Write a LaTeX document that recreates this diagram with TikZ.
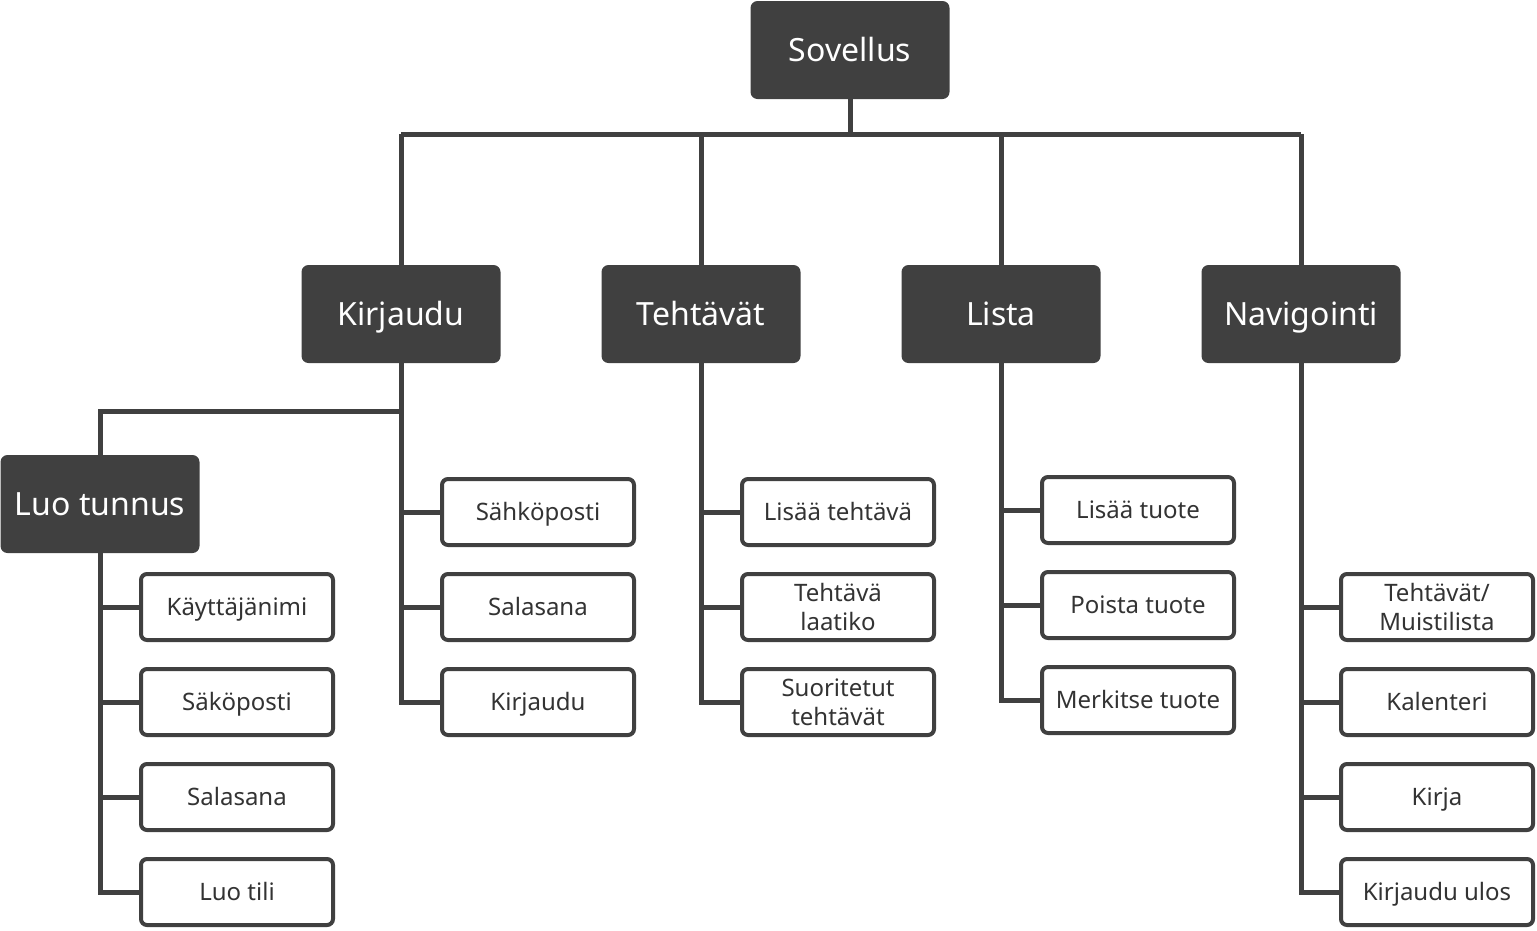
\documentclass[tikz,border=0pt]{standalone}
\usepackage{fontspec}
\setmainfont{Noto Sans}
\definecolor{dk}{HTML}{404040}
\definecolor{tx}{HTML}{333333}
\tikzset{
  mainbox/.style={fill=dk, rounded corners=7pt, minimum width=199pt, minimum height=98pt, text=white, font=\fontsize{32}{38}\selectfont, inner sep=0pt, text height=26pt, text depth=4pt},
  leafbase/.style={draw=dk, line width=4pt, fill=white, rounded corners=6pt, minimum width=192pt, minimum height=66pt, font=\fontsize{24}{29}\selectfont, text=tx, align=center, inner sep=0pt},
  leaf/.style={leafbase, text height=19pt, text depth=3pt},
  leaftwo/.style={leafbase},
  conn/.style={draw=dk, line width=5pt},
}
\begin{document}
\begin{tikzpicture}[x=1pt,y=-1pt]
\useasboundingbox (0,0) rectangle (1537,930);
% level 1
\node[mainbox] (sov) at (850,50) {Sovellus};
\coordinate (bus) at (850,134);
% level 2
\node[mainbox] (kir) at (401,314) {Kirjaudu};
\node[mainbox] (teh) at (701,314) {Tehtävät};
\node[mainbox] (lis) at (1001,314) {Lista};
\node[mainbox] (nav) at (1301,314) {Navigointi};
\node[mainbox] (luo) at (100,504) {Luo tunnus};
\coordinate (kbr) at (401,411);
% Luo tunnus children
\node[leaf] (l1) at (237,607) {Käyttäjänimi};
\node[leaf] (l2) at (237,702) {Säköposti};
\node[leaf] (l3) at (237,797) {Salasana};
\node[leaf] (l4) at (237,892) {Luo tili};
% Kirjaudu children
\node[leaf] (k1) at (538,512) {Sähköposti};
\node[leaf] (k2) at (538,607) {Salasana};
\node[leaf] (k3) at (538,702) {Kirjaudu};
% Tehtävät children
\node[leaf] (t1) at (838,512) {Lisää tehtävä};
\node[leaftwo] (t2) at (838,607) {Tehtävä\\laatiko};
\node[leaftwo] (t3) at (838,702) {Suoritetut\\tehtävät};
% Lista children
\node[leaf] (s1) at (1138,510) {Lisää tuote};
\node[leaf] (s2) at (1138,605) {Poista tuote};
\node[leaf] (s3) at (1138,700) {Merkitse tuote};
% Navigointi children
\node[leaftwo] (n1) at (1437,607) {Tehtävät/\\Muistilista};
\node[leaf] (n2) at (1437,702) {Kalenteri};
\node[leaf] (n3) at (1437,797) {Kirja};
\node[leaf] (n4) at (1437,892) {Kirjaudu ulos};
% connectors
\draw[conn] (sov.south) -- (bus);
\draw[conn] (kir.north |- bus) -- (nav.north |- bus);
\draw[conn] (kir.north |- bus) -- (kir.north);
\draw[conn] (teh.north |- bus) -- (teh.north);
\draw[conn] (lis.north |- bus) -- (lis.north);
\draw[conn] (nav.north |- bus) -- (nav.north);
% Kirjaudu
\draw[conn] (kir.south) |- (k3.west);
\draw[conn] (kir.south |- k1) -- (k1.west);
\draw[conn] (kir.south |- k2) -- (k2.west);
\draw[conn] (kbr) -| (luo.north);
% Luo tunnus
\draw[conn] (luo.south) |- (l4.west);
\draw[conn] (luo.south |- l1) -- (l1.west);
\draw[conn] (luo.south |- l2) -- (l2.west);
\draw[conn] (luo.south |- l3) -- (l3.west);
% Tehtävät
\draw[conn] (teh.south) |- (t3.west);
\draw[conn] (teh.south |- t1) -- (t1.west);
\draw[conn] (teh.south |- t2) -- (t2.west);
% Lista
\draw[conn] (lis.south) |- (s3.west);
\draw[conn] (lis.south |- s1) -- (s1.west);
\draw[conn] (lis.south |- s2) -- (s2.west);
% Navigointi
\draw[conn] (nav.south) |- (n4.west);
\draw[conn] (nav.south |- n1) -- (n1.west);
\draw[conn] (nav.south |- n2) -- (n2.west);
\draw[conn] (nav.south |- n3) -- (n3.west);
\end{tikzpicture}
\end{document}
